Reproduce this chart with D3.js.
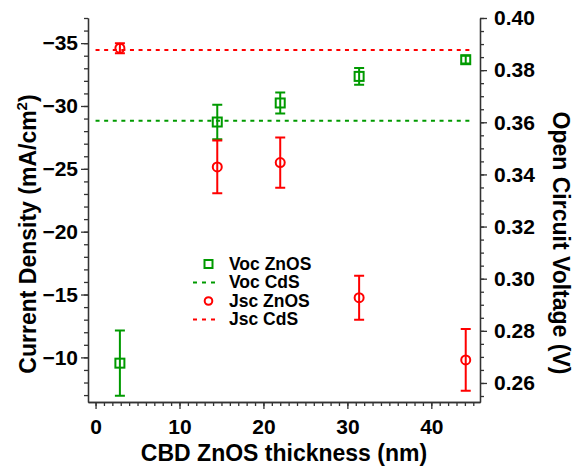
<!DOCTYPE html>
<html>
<head>
<meta charset="utf-8">
<script src="https://cdn.jsdelivr.net/npm/d3@7"></script>
<style>
body { margin: 0; background: #fff; }
text { font-family: "Liberation Sans", Arial, sans-serif; font-weight: bold; }
</style>
</head>
<body>
<script>
var w = 574;
var h = 468;

// data
var thickness = [2.9, 14.5, 22.0, 31.4, 44.1];
var vocZnOS = [0.2676, 0.3601, 0.3674, 0.3776, 0.3840];
var vocErr = [0.0125, 0.0066, 0.0040, 0.0032, 0.0015];
var jscZnOS = [-34.6, -25.15, -25.5, -14.75, -9.8];
var jscErr = [0.4, 2.1, 2.0, 1.75, 2.45];
var vocCdS = 0.3606;
var jscCdS = -34.45;
var cdsSpan = [0, 45];
var xTicks = [0, 10, 20, 30, 40];
var leftTicks = [-35, -30, -25, -20, -15, -10];
var rightTicks = [0.26, 0.28, 0.30, 0.32, 0.34, 0.36, 0.38, 0.40];
var legendItems = ["Voc ZnOS", "Voc CdS", "Jsc ZnOS", "Jsc CdS"];

var green = "#009a00";
var red = "#ff0000";

var svg = d3.select("body").append("svg").attr("width", w).attr("height", h);

var xS = d3.scaleLinear().domain([-0.9, 45.8]).range([88, 480]);
var yL = d3.scaleLinear().domain([-6.45, -37]).range([402, 18]);
var yR = d3.scaleLinear().domain([0.2527, 0.40]).range([402, 18]);

// minor ticks first, then major ones with labels
function styleAxis(g) {
    g.selectAll("path").attr("stroke", "#333").attr("stroke-width", 1.3);
    g.selectAll("line").attr("stroke", "#333").attr("stroke-width", 1.3);
    g.selectAll("text").attr("font-size", "21px").attr("fill", "#000");
}

svg.append("g").attr("transform", "translate(0,402)")
    .call(d3.axisBottom(xS).tickValues(d3.range(0, 46, 1)).tickFormat("").tickSize(4).tickSizeOuter(0)).call(styleAxis);
svg.append("g").attr("transform", "translate(0,402)")
    .call(d3.axisBottom(xS).tickValues(xTicks).tickSize(7).tickPadding(10).tickSizeOuter(0)).call(styleAxis);

svg.append("g").attr("transform", "translate(88,0)")
    .call(d3.axisLeft(yL).tickValues(d3.range(-37, -6, 1)).tickFormat("").tickSize(4).tickSizeOuter(0)).call(styleAxis);
svg.append("g").attr("transform", "translate(88,0)")
    .call(d3.axisLeft(yL).tickValues(leftTicks).tickSize(7).tickPadding(3).tickSizeOuter(0)).call(styleAxis);

svg.append("g").attr("transform", "translate(480,0)")
    .call(d3.axisRight(yR).tickValues(d3.range(0.255, 0.4001, 0.005)).tickFormat("").tickSize(4).tickSizeOuter(0)).call(styleAxis);
svg.append("g").attr("transform", "translate(480,0)")
    .call(d3.axisRight(yR).tickValues(rightTicks).tickFormat(d3.format(".2f")).tickSize(7).tickPadding(7).tickSizeOuter(0)).call(styleAxis);

// axis titles
svg.append("text").attr("x", 284).attr("y", 461).attr("text-anchor", "middle")
    .attr("font-size", "23px").text("CBD ZnOS thickness (nm)");

var lt = svg.append("text").attr("transform", "translate(36,234) rotate(-90)")
    .attr("text-anchor", "middle").attr("font-size", "23px");
lt.append("tspan").text("Current Density (mA/cm");
lt.append("tspan").attr("font-size", "15px").attr("dy", -9).text("2");
lt.append("tspan").attr("dy", 9).text(")");

svg.append("text").attr("transform", "translate(553,243) rotate(90)")
    .attr("text-anchor", "middle").attr("font-size", "23px").text("Open Circuit Voltage (V)");

// CdS reference lines
svg.append("line").attr("x1", xS(cdsSpan[0])).attr("x2", xS(cdsSpan[1]))
    .attr("y1", yR(vocCdS)).attr("y2", yR(vocCdS))
    .attr("stroke", green).attr("stroke-width", 2).attr("stroke-dasharray", "4,4.6");
svg.append("line").attr("x1", xS(cdsSpan[0])).attr("x2", xS(cdsSpan[1]))
    .attr("y1", yL(jscCdS)).attr("y2", yL(jscCdS))
    .attr("stroke", red).attr("stroke-width", 2).attr("stroke-dasharray", "4,4.6");

function errorBars(vals, errs, yS, color) {
    var g = svg.append("g").attr("stroke", color).attr("stroke-width", 2).attr("fill", "none");
    g.selectAll("path.eb").data(thickness).enter().append("path")
        .attr("d", function(d, i) {
            var cx = xS(d), y1 = yS(vals[i] - errs[i]), y2 = yS(vals[i] + errs[i]);
            return "M" + cx + "," + y1 + "V" + y2 +
                "M" + (cx - 5) + "," + y1 + "H" + (cx + 5) +
                "M" + (cx - 5) + "," + y2 + "H" + (cx + 5);
        });
    return g;
}

var gv = errorBars(vocZnOS, vocErr, yR, green);
gv.selectAll("rect").data(thickness).enter().append("rect")
    .attr("x", function(d) {return xS(d) - 4.5;})
    .attr("y", function(d, i) {return yR(vocZnOS[i]) - 4.5;})
    .attr("width", 9).attr("height", 9);

var gj = errorBars(jscZnOS, jscErr, yL, red);
gj.selectAll("circle").data(thickness).enter().append("circle")
    .attr("cx", function(d) {return xS(d);})
    .attr("cy", function(d, i) {return yL(jscZnOS[i]);})
    .attr("r", 4.5);

// legend
var leg = svg.append("g");
legendItems.forEach(function(name, i) {
    var by = 269.5 + i * 18.5;
    var col = i < 2 ? green : red;
    if (i === 0) {
        leg.append("rect").attr("x", 204.5).attr("y", by - 9.5).attr("width", 8).attr("height", 8)
            .attr("fill", "none").attr("stroke", col).attr("stroke-width", 2);
    } else if (i === 2) {
        leg.append("circle").attr("cx", 208.5).attr("cy", by - 5.5).attr("r", 3.8)
            .attr("fill", "none").attr("stroke", col).attr("stroke-width", 2);
    } else {
        leg.append("line").attr("x1", 193).attr("x2", 218).attr("y1", by - 5.5).attr("y2", by - 5.5)
            .attr("stroke", col).attr("stroke-width", 2).attr("stroke-dasharray", "4,5");
    }
    leg.append("text").attr("x", 229).attr("y", by).attr("font-size", "17.5px").text(name);
});
</script>
</body>
</html>
